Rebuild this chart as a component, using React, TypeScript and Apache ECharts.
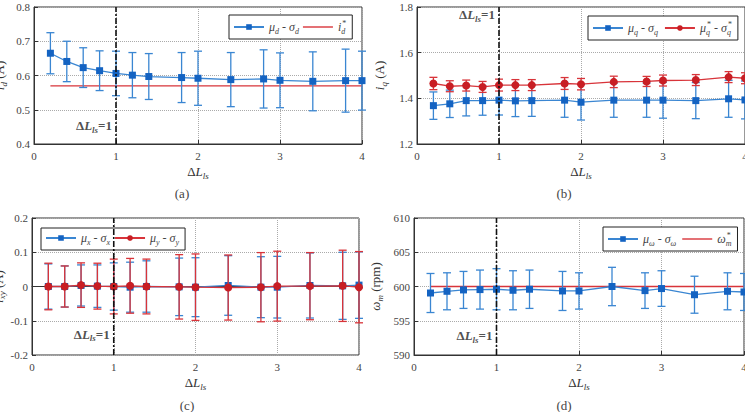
import React, { useEffect, useRef } from "react";
import * as echarts from "echarts";

// Inductance deviation values (x positions of every measurement)
const deltaL = [0.2, 0.4, 0.6, 0.8, 1.0, 1.2, 1.4, 1.8, 2.0, 2.4, 2.8, 3.0, 3.4, 3.8, 4.0];
const nominalDeltaL = 1;

// (a) d-axis current
const idMean = [0.665, 0.641, 0.623, 0.614, 0.606, 0.601, 0.597, 0.594, 0.592, 0.588, 0.590, 0.586, 0.583, 0.585, 0.585];
const idStd = [0.060, 0.059, 0.058, 0.058, 0.065, 0.066, 0.067, 0.073, 0.079, 0.079, 0.085, 0.080, 0.086, 0.092, 0.086];
const idRef = 0.57;

// (b) q-axis current
const iqMean = [1.368, 1.376, 1.390, 1.390, 1.392, 1.389, 1.390, 1.392, 1.383, 1.392, 1.392, 1.392, 1.390, 1.398, 1.393];
const iqStd = [0.060, 0.060, 0.067, 0.064, 0.065, 0.069, 0.069, 0.075, 0.078, 0.075, 0.075, 0.079, 0.079, 0.081, 0.083];
const iqRefMean = [1.465, 1.453, 1.456, 1.450, 1.458, 1.458, 1.458, 1.465, 1.462, 1.472, 1.474, 1.478, 1.480, 1.493, 1.488];
const iqRefStd = [0.027, 0.024, 0.024, 0.024, 0.026, 0.024, 0.024, 0.026, 0.025, 0.025, 0.022, 0.024, 0.024, 0.024, 0.024];

// (c) x-y subspace currents
const ixMean = [0.000, 0.000, 0.003, 0.001, 0.000, -0.002, 0.000, -0.001, -0.002, 0.003, -0.002, -0.002, 0.003, 0.002, 0.004];
const ixStd = [0.066, 0.060, 0.060, 0.062, 0.069, 0.073, 0.075, 0.084, 0.086, 0.087, 0.089, 0.090, 0.095, 0.098, 0.097];
const iyMean = [0.000, 0.000, 0.004, 0.001, 0.000, 0.002, 0.000, -0.001, -0.002, -0.003, -0.002, 0.001, 0.001, 0.002, -0.002];
const iyStd = [0.068, 0.060, 0.065, 0.067, 0.080, 0.080, 0.080, 0.094, 0.097, 0.095, 0.101, 0.102, 0.098, 0.104, 0.104];

// (d) mechanical speed
const wMean = [599.05, 599.3, 599.5, 599.55, 599.6, 599.45, 599.6, 599.35, 599.35, 600.0, 599.4, 599.7, 598.8, 599.3, 599.2];
const wStd = [2.85, 2.7, 2.7, 2.85, 3.0, 2.85, 2.8, 2.85, 2.65, 2.8, 2.6, 2.6, 2.7, 2.7, 2.7];
const wRef = 600;

// Axis ranges per panel: [min, max, interval]
const yRanges: [number, number, number][] = [
  [0.4, 0.8, 0.1],
  [1.2, 1.8, 0.2],
  [-0.2, 0.2, 0.1],
  [590, 610, 5],
];
// Height of the "ΔL_ls=1" note in each panel
const notePos = [0.453, 1.765, -0.139, 592.8];

const SERIF = "Liberation Serif";
const BLUE_LINE = "#3a86d2";
const BLUE_MARK = "#1463c2";
const RED_LINE = "#d8343a";
const RED_MARK = "#c81e24";
const TXT = "#444";

const rich: Record<string, any> = {
  n: { fontFamily: SERIF, fontSize: 12, color: TXT, lineHeight: 16 },
  i: { fontFamily: SERIF, fontSize: 12, fontStyle: "italic", color: TXT, lineHeight: 16 },
  sb: { fontFamily: SERIF, fontSize: 8, fontStyle: "italic", color: TXT, lineHeight: 8, verticalAlign: "bottom" },
  sbs: { fontFamily: SERIF, fontSize: 8, fontStyle: "italic", color: TXT, lineHeight: 8, verticalAlign: "bottom", width: 1 },
  sp: { fontFamily: SERIF, fontSize: 8, color: TXT, lineHeight: 8, verticalAlign: "top" },
  B: { fontFamily: SERIF, fontSize: 13, fontWeight: "bold", color: "#222", lineHeight: 17 },
  BI: { fontFamily: SERIF, fontSize: 13, fontWeight: "bold", fontStyle: "italic", color: "#222", lineHeight: 17 },
  Bs: { fontFamily: SERIF, fontSize: 9, fontWeight: "bold", fontStyle: "italic", color: "#222", lineHeight: 9, verticalAlign: "bottom" },
  X: { fontFamily: SERIF, fontSize: 13, color: "#333", lineHeight: 17 },
  XI: { fontFamily: SERIF, fontSize: 13, fontStyle: "italic", color: "#333", lineHeight: 17 },
  Xs: { fontFamily: SERIF, fontSize: 9, fontStyle: "italic", color: "#333", lineHeight: 9, verticalAlign: "bottom" },
};

const legendText: Record<string, string> = {
  id: "{i|μ}{sb|d}{n| - }{i|σ}{sb|d}",
  idRef: "{i|i}{sbs|d}{sp|*}",
  iq: "{i|μ}{sb|q}{n| - }{i|σ}{sb|q}",
  iqRef: "{i|μ}{sbs|q}{sp|*}{n| - }{i|σ}{sbs|q}{sp|*}",
  ix: "{i|μ}{sb|x}{n| - }{i|σ}{sb|x}",
  iy: "{i|μ}{sb|y}{n| - }{i|σ}{sb|y}",
  w: "{i|μ}{sb|ω}{n| - }{i|σ}{sb|ω}",
  wRef: "{i|ω}{sbs|m}{sp|*}",
};

const yNames = [
  "{XI|i}{Xs|d}{X| (A)}",
  "{XI|i}{Xs|q}{X| (A)}",
  "{XI|i}{Xs|xy}{X| (A)}",
  "{XI|ω}{Xs|m}{X| (rpm)}",
];

const grids = [
  { left: 34, top: 7, width: 328, height: 137 },
  { left: 417, top: 7, width: 328, height: 137 },
  { left: 32, top: 218, width: 327, height: 137 },
  { left: 414, top: 218, width: 330, height: 137 },
];

// Plain line icon for legend entries of reference traces
const LINE_ICON = "path://M0,0 L30,0 L30,1.4 L0,1.4 Z";

function errorBars(k: number, means: number[], stds: number[], color: string, z: number) {
  return {
    type: "custom",
    xAxisIndex: k,
    yAxisIndex: k,
    z,
    silent: true,
    clip: false,
    data: deltaL.map((x, i) => [x, means[i] - stds[i], means[i] + stds[i]]),
    encode: { x: 0, y: [1, 2] },
    renderItem: (_p: any, api: any) => {
      const x = api.value(0);
      const lo = api.coord([x, api.value(1)]);
      const hi = api.coord([x, api.value(2)]);
      const hw = 4;
      const style = { stroke: color, lineWidth: 1.3 };
      return {
        type: "group",
        children: [
          { type: "line", shape: { x1: lo[0], y1: lo[1], x2: hi[0], y2: hi[1] }, style },
          { type: "line", shape: { x1: lo[0] - hw, y1: lo[1], x2: lo[0] + hw, y2: lo[1] }, style },
          { type: "line", shape: { x1: hi[0] - hw, y1: hi[1], x2: hi[0] + hw, y2: hi[1] }, style },
        ],
      };
    },
  };
}

function meanLine(k: number, name: string, means: number[], symbol: string, size: number, lineColor: string, markColor: string, z: number) {
  return {
    type: "line",
    name,
    xAxisIndex: k,
    yAxisIndex: k,
    z,
    data: deltaL.map((x, i) => [x, means[i]]),
    symbol,
    symbolSize: size,
    showSymbol: true,
    itemStyle: { color: markColor },
    lineStyle: { color: lineColor, width: 1.3 },
    silent: true,
  };
}

function refLine(k: number, name: string, value: number) {
  return {
    type: "line",
    name,
    xAxisIndex: k,
    yAxisIndex: k,
    z: 1,
    data: deltaL.map((x) => [x, value]),
    symbol: "none",
    itemStyle: { color: RED_LINE },
    lineStyle: { color: RED_LINE, width: 1.3 },
    silent: true,
  };
}

function nominalMarker(k: number) {
  const [mn, mx] = yRanges[k];
  return [
    {
      type: "line",
      xAxisIndex: k,
      yAxisIndex: k,
      z: 6,
      data: [[nominalDeltaL, mn], [nominalDeltaL, mx]],
      symbol: "none",
      lineStyle: { color: "#111", width: 1.6, type: [6, 2, 2, 2] },
      silent: true,
    },
    {
      type: "scatter",
      xAxisIndex: k,
      yAxisIndex: k,
      z: 7,
      data: [[nominalDeltaL, notePos[k]]],
      symbolSize: 0,
      silent: true,
      label: {
        show: true,
        position: "left",
        distance: 4,
        formatter: "{B|Δ}{BI|L}{Bs|ls}{B|=1}",
        fontFamily: SERIF,
        rich,
      },
    },
  ];
}

function legend(names: (string | object)[], left: number, top: number, gap: number) {
  return {
    data: names,
    left,
    top,
    orient: "horizontal",
    itemWidth: 30,
    itemHeight: 7,
    itemGap: gap,
    padding: [4, 6, 4, 4],
    borderColor: "#222",
    borderWidth: 1,
    backgroundColor: "#fff",
    selectedMode: false,
    formatter: (n: string) => legendText[n],
    textStyle: { rich, fontFamily: SERIF, fontSize: 12, color: TXT },
  };
}

export default function App() {
  const ref = useRef<HTMLDivElement>(null);

  useEffect(() => {
    if (!ref.current) return;
    const chart = echarts.init(ref.current, undefined, { renderer: "svg" });

    const xAxis = grids.map((_, k) => ({
      gridIndex: k,
      type: "value",
      min: 0,
      max: 4,
      interval: 1,
      name: "{X|Δ}{XI|L}{Xs|ls}",
      nameLocation: "middle",
      nameGap: 19,
      nameTextStyle: { rich, fontFamily: SERIF },
      axisLine: { show: true, lineStyle: { color: "#333" } },
      axisTick: { show: true, inside: true, length: 4, lineStyle: { color: "#333" } },
      axisLabel: { color: TXT, fontFamily: SERIF, fontSize: 11, margin: 6 },
      splitLine: { show: true, lineStyle: { type: "dotted", color: "#aaa" } },
    }));

    const yAxis = grids.map((_, k) => ({
      gridIndex: k,
      type: "value",
      min: yRanges[k][0],
      max: yRanges[k][1],
      interval: yRanges[k][2],
      name: yNames[k],
      nameLocation: "middle",
      nameRotate: 90,
      nameGap: [26, 29, 24, 30][k],
      nameTextStyle: { rich, fontFamily: SERIF },
      axisLine: { show: true, lineStyle: { color: "#333" } },
      axisTick: { show: true, inside: true, length: 4, lineStyle: { color: "#333" } },
      axisLabel: { color: TXT, fontFamily: SERIF, fontSize: 11, margin: 4 },
      splitLine: { show: true, lineStyle: { type: "dotted", color: "#aaa" } },
    }));

    const series: any[] = [
      // (a)
      refLine(0, "idRef", idRef),
      errorBars(0, idMean, idStd, BLUE_LINE, 2),
      meanLine(0, "id", idMean, "rect", 7, BLUE_LINE, BLUE_MARK, 3),
      ...nominalMarker(0),
      // (b)
      errorBars(1, iqMean, iqStd, BLUE_LINE, 2),
      meanLine(1, "iq", iqMean, "rect", 7, BLUE_LINE, BLUE_MARK, 3),
      errorBars(1, iqRefMean, iqRefStd, RED_LINE, 4),
      meanLine(1, "iqRef", iqRefMean, "circle", 8, RED_LINE, RED_MARK, 5),
      ...nominalMarker(1),
      // (c)
      errorBars(2, ixMean, ixStd, BLUE_LINE, 2),
      meanLine(2, "ix", ixMean, "rect", 7, BLUE_LINE, BLUE_MARK, 3),
      errorBars(2, iyMean, iyStd, RED_LINE, 4),
      meanLine(2, "iy", iyMean, "circle", 8, RED_LINE, RED_MARK, 5),
      ...nominalMarker(2),
      // (d)
      refLine(3, "wRef", wRef),
      errorBars(3, wMean, wStd, BLUE_LINE, 2),
      meanLine(3, "w", wMean, "rect", 7, BLUE_LINE, BLUE_MARK, 3),
      ...nominalMarker(3),
    ];

    const captions = [
      { text: "(a)", x: 182, y: 193 },
      { text: "(b)", x: 564, y: 193 },
      { text: "(c)", x: 187, y: 405 },
      { text: "(d)", x: 564, y: 405 },
    ];

    chart.setOption({
      animation: false,
      backgroundColor: "#fff",
      textStyle: { fontFamily: SERIF },
      grid: grids.map((g) => ({
        ...g,
        outerBoundsMode: "none",
        containLabel: false,
        show: true,
        borderColor: "#333",
        borderWidth: 1,
        backgroundColor: "transparent",
      })),
      xAxis,
      yAxis,
      legend: [
        legend(["id", { name: "idRef", icon: LINE_ICON }], 229, 15, 4),
        legend(["iq", "iqRef"], 588, 16, 6),
        legend(["ix", "iy"], 41, 228, 4),
        legend(["w", { name: "wRef", icon: LINE_ICON }], 603, 227, 6),
      ],
      graphic: captions.map((c) => ({
        type: "text",
        x: c.x,
        y: c.y,
        style: {
          text: c.text,
          fontFamily: SERIF,
          fontSize: 13,
          fill: TXT,
          textAlign: "center",
          textVerticalAlign: "middle",
        },
      })),
      series,
    });

    return () => chart.dispose();
  }, []);

  return (
    <div
      ref={ref}
      style={{ position: "fixed", left: 0, top: 0, width: 745, height: 412, background: "#fff" }}
    />
  );
}
